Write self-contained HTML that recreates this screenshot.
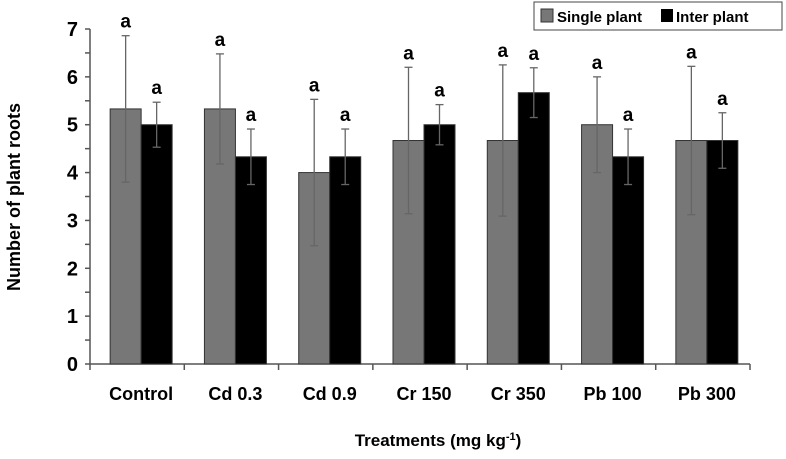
<!DOCTYPE html>
<html><head><meta charset="utf-8"><style>
body{margin:0;background:#fff;font-family:"Liberation Sans",sans-serif}
svg text{font-family:"Liberation Sans",sans-serif;font-weight:bold}
</style></head><body>
<svg id="c" width="786" height="454">
<g id="axes"></g><g id="bars"></g>
<text x="438" y="446" font-size="17" text-anchor="middle">Treatments (mg kg<tspan dy="-6" font-size="11">-1</tspan><tspan dy="6">)</tspan></text>
<text transform="translate(20,197) rotate(-90)" font-size="18" text-anchor="middle">Number of plant roots</text>
<g>
<rect x="534" y="2" width="248" height="28" fill="#fff" stroke="#444" stroke-width="1"/>
<rect x="541" y="9" width="12" height="13" fill="#777" stroke="#333"/>
<text x="557" y="22" font-size="15">Single plant</text>
<rect x="661" y="9" width="12" height="13" fill="#000"/>
<text x="676" y="22" font-size="15">Inter plant</text>
</g>
</svg>
<script>
const categories=["Control","Cd 0.3","Cd 0.9","Cr 150","Cr 350","Pb 100","Pb 300"];
const singleVals=[5.33,5.33,4.0,4.67,4.67,5.0,4.67];
const singleErr=[1.53,1.15,1.53,1.53,1.58,1.0,1.55];
const interVals=[5.0,4.33,4.33,5.0,5.67,4.33,4.67];
const interErr=[0.47,0.58,0.58,0.42,0.52,0.58,0.58];
const yTicks=[0,1,2,3,4,5,6,7];
const NS="http://www.w3.org/2000/svg";
const y0=364,y7=29,xL=90,xR=750;
const y=v=>y0-(y0-y7)*v/7;
const band=(xR-xL)/categories.length;
const cx=i=>xL+band*(i+0.5)+4;
function mk(p,t,a){const e=document.createElementNS(NS,t);for(const k in a)e.setAttribute(k,a[k]);p.appendChild(e);return e;}
const ax=document.getElementById('axes'),bg=document.getElementById('bars');
let l=mk(ax,'line',{x1:xL,y1:y7,x2:xL,y2:y0,stroke:'#555','stroke-width':1.5});


l=mk(ax,'line',{x1:xL,y1:y0,x2:xR,y2:y0,stroke:'#555','stroke-width':1.5});


for(let v=0;v<=7;v+=0.5){mk(ax,'line',{x1:xL-5,y1:y(v),x2:xL,y2:y(v),stroke:'#555','stroke-width':1.5});}
yTicks.forEach(v=>{const t=mk(ax,'text',{x:xL-12,y:y(v)+7,'font-size':20,'text-anchor':'end'});t.textContent=v;

});
for(let i=0;i<=categories.length;i++){mk(ax,'line',{x1:xL+band*i,y1:y0,x2:xL+band*i,y2:y0+6,stroke:'#555','stroke-width':1.5});}
categories.forEach((c,i)=>{
 const t=mk(ax,'text',{x:cx(i),y:400,'font-size':18,'text-anchor':'middle'});t.textContent=c;
 
 
 [[singleVals,singleErr,'#777',-1,'bar-single'],[interVals,interErr,'#000',0,'bar-inter']].forEach(([vals,err,col,off,nm])=>{
  const w=31,x=cx(i)+off*w;
  const r=mk(bg,'rect',{x:x,y:y(vals[i]),width:w,height:y0-y(vals[i]),fill:col,stroke:'#333','stroke-width':1});
  
  
  const m=x+w/2,top=y(vals[i]+err[i]),bot=y(vals[i]-err[i]);
  mk(bg,'line',{x1:m,y1:top,x2:m,y2:bot,stroke:'#666','stroke-width':1.3});
  mk(bg,'line',{x1:m-4,y1:top,x2:m+4,y2:top,stroke:'#666','stroke-width':1.3});
  mk(bg,'line',{x1:m-4,y1:bot,x2:m+4,y2:bot,stroke:'#666','stroke-width':1.3});
  const a=mk(bg,'text',{x:m,y:top-8,'font-size':19,'text-anchor':'middle'});a.textContent='a';
  
  
 });
});
</script>
</body></html>
